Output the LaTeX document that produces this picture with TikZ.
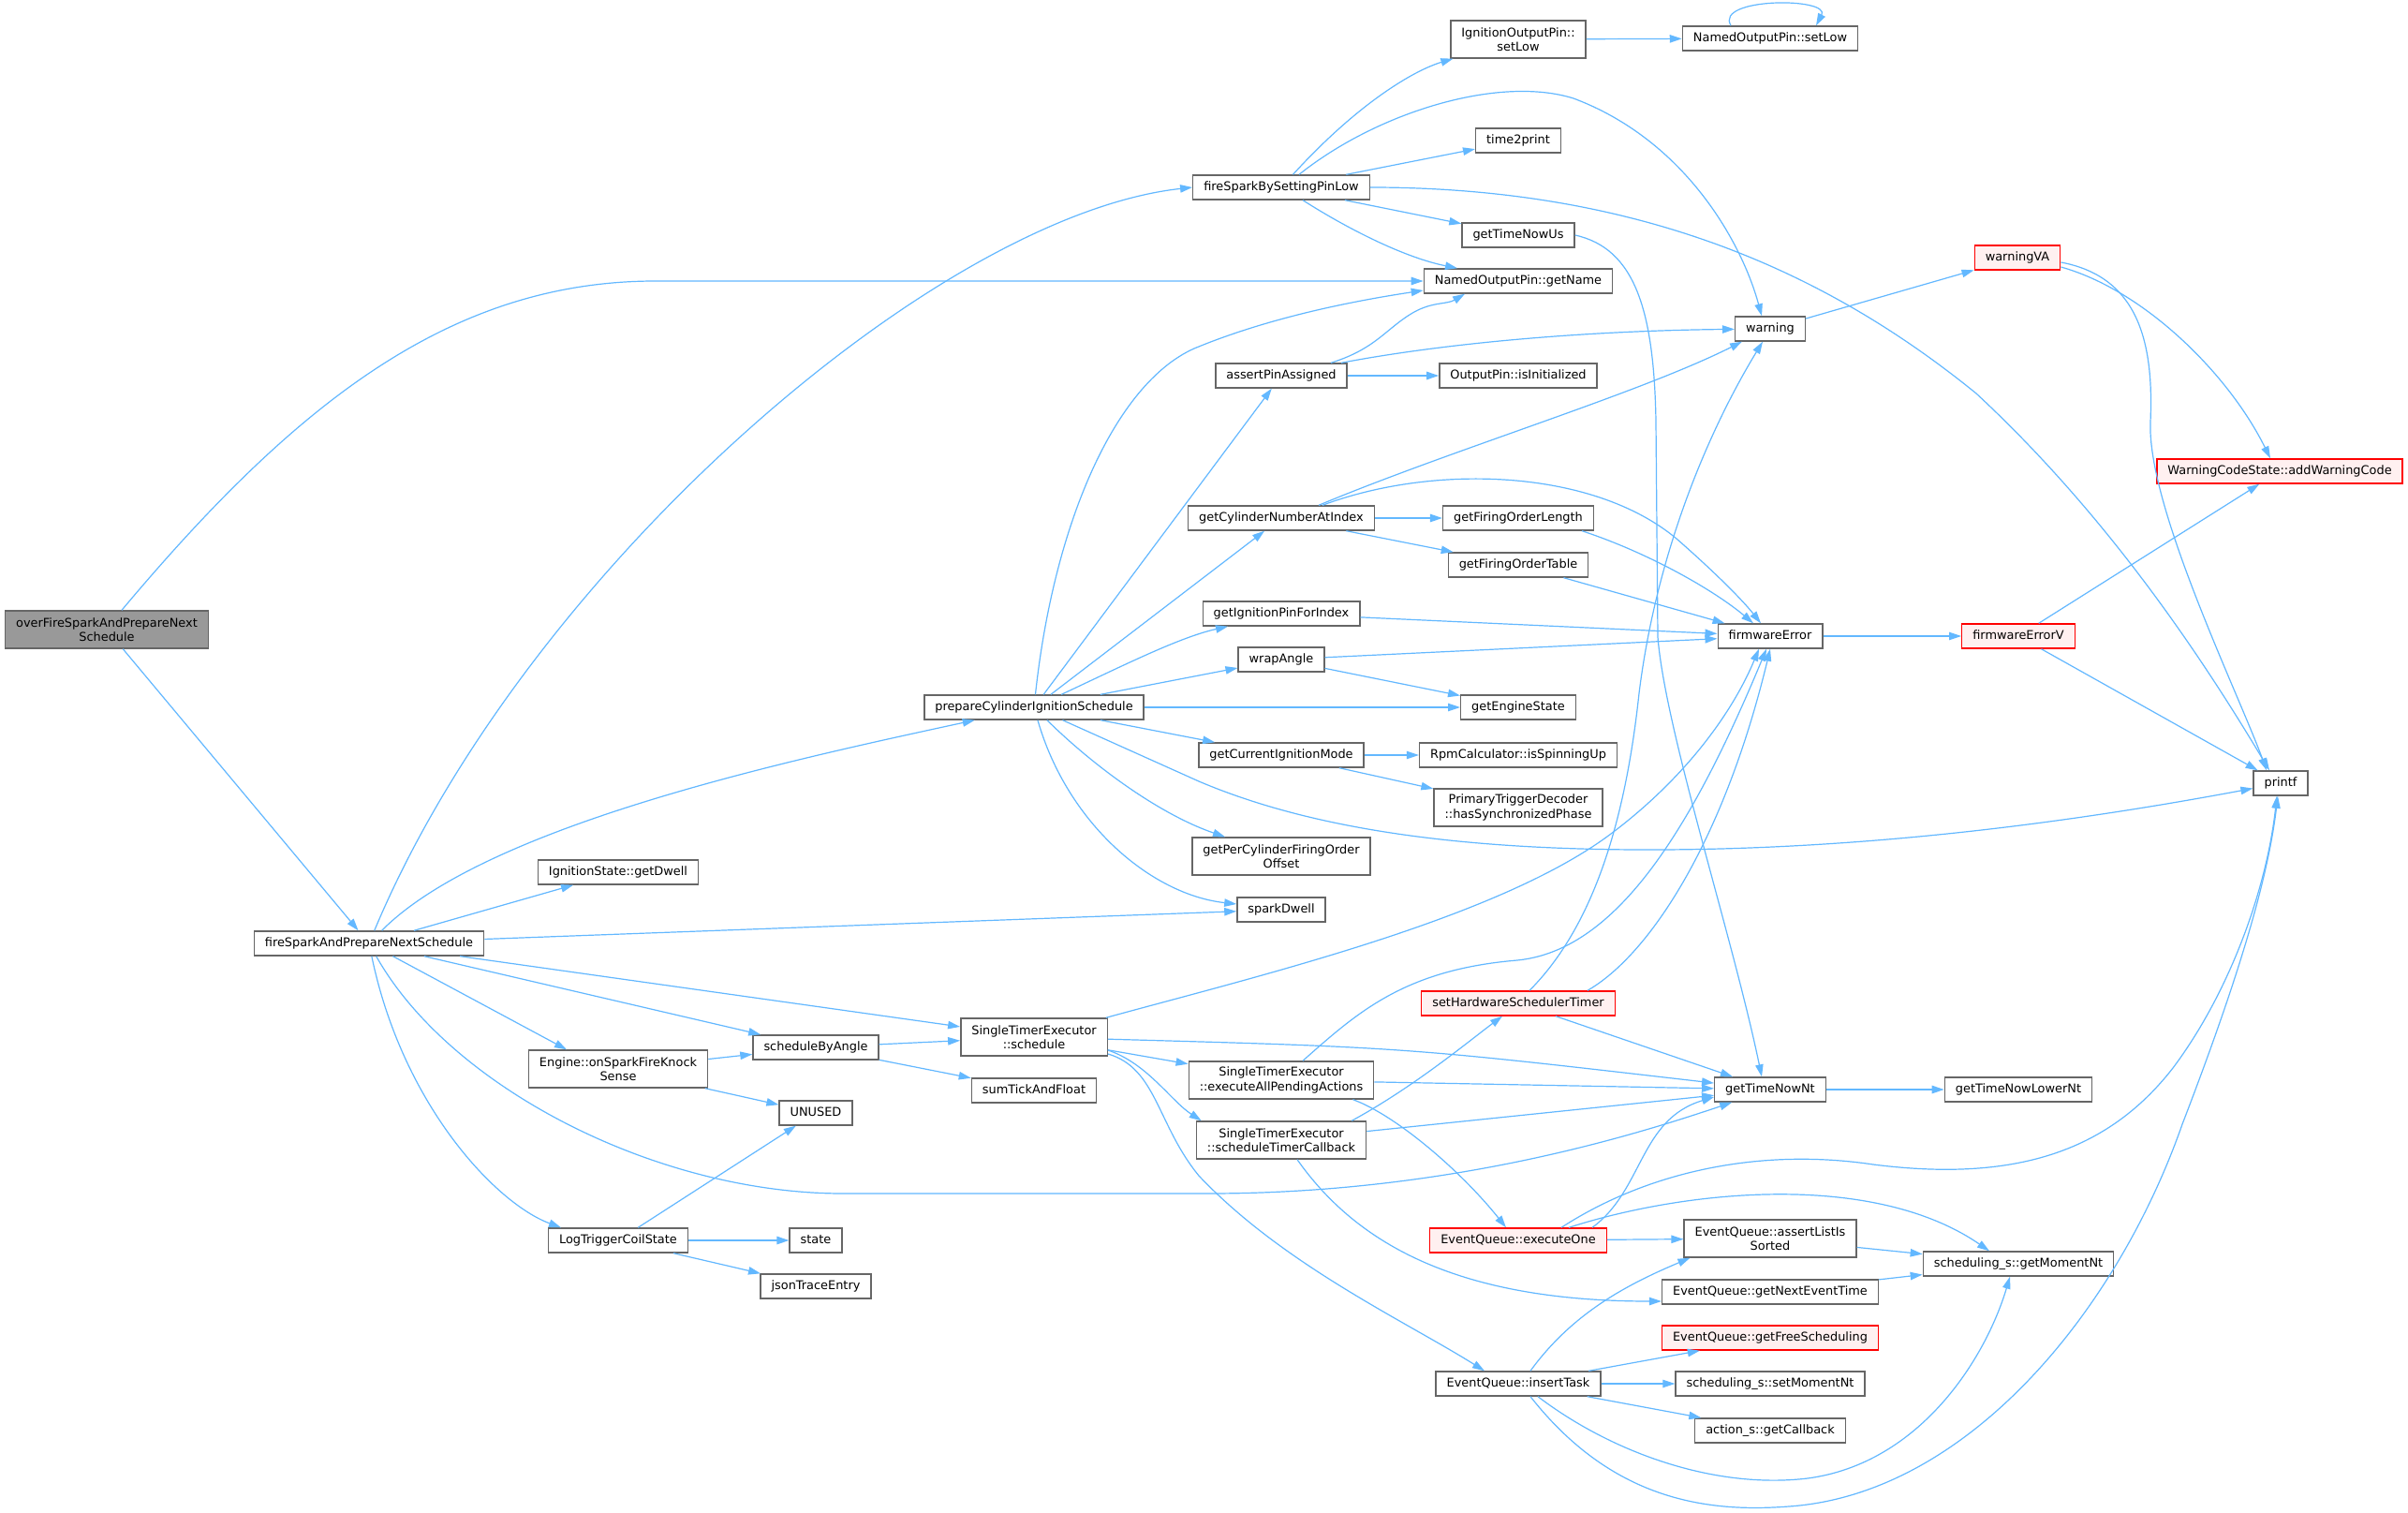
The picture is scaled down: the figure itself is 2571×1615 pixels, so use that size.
\documentclass[tikz,border=0pt]{standalone}
\usepackage{fontspec}
\setmainfont{DejaVu Sans}
\usetikzlibrary{arrows.meta,calc}
\definecolor{edgeblue}{HTML}{63B8FF}
\definecolor{nodegray}{HTML}{666666}
\definecolor{rootfill}{HTML}{999999}
\definecolor{redfill}{HTML}{FFF0F0}
\newcommand{\callfont}{\fontsize{6.45}{7.6}\selectfont}
\tikzset{
  fnbase/.style={draw=nodegray, fill=white, line width=0.7pt, inner xsep=5.75pt, inner ysep=2.4pt, font=\callfont},
  fn/.style={fnbase, minimum height=13pt, text height=4.9pt, text depth=1.4pt},
  fntwo/.style={fnbase, align=center, minimum height=20pt},
  fnred/.style={fn, draw=red, fill=redfill},
  call/.style={draw=edgeblue, line width=0.6pt, -{Triangle[length=6.5pt,width=4.2pt]}}
}
\begin{document}
\begin{tikzpicture}[x=0.5pt,y=-0.5pt]
    \fill[white] (0,0) rectangle (2571,1615);
    \useasboundingbox (0,0) rectangle (2571,1615);
    % column 1-4
    \node[fntwo, fill=rootfill] (root) at (114,672) {overFireSparkAndPrepareNext\\Schedule};
    \node[fn] (fsapns) at (394,1007) {fireSparkAndPrepareNextSchedule};
    \node[fn] (getdwell) at (660,931) {IgnitionState::getDwell};
    \node[fntwo] (knock) at (660,1141) {Engine::onSparkFireKnock\\Sense};
    \node[fn] (logcoil) at (660,1324) {LogTriggerCoilState};
    \node[fn] (sba) at (871,1118) {scheduleByAngle};
    \node[fn] (unused) at (871,1188) {UNUSED};
    \node[fn] (state) at (871,1324) {state};
    \node[fn] (json) at (871,1373) {jsonTraceEntry};
    % column 5-6
    \node[fn] (pcis) at (1104,755) {prepareCylinderIgnitionSchedule};
    \node[fntwo] (stes) at (1104,1107) {SingleTimerExecutor\\::schedule};
    \node[fn] (sumtick) at (1104,1164) {sumTickAndFloat};
    \node[fn] (fsbspl) at (1368,200) {fireSparkBySettingPinLow};
    \node[fn] (assertpin) at (1368,401) {assertPinAssigned};
    \node[fn] (cylnum) at (1368,553) {getCylinderNumberAtIndex};
    \node[fn] (pinidx) at (1368,655) {getIgnitionPinForIndex};
    \node[fn] (wrap) at (1368,704) {wrapAngle};
    \node[fn] (ignmode) at (1368,806) {getCurrentIgnitionMode};
    \node[fntwo] (offset) at (1368,914) {getPerCylinderFiringOrder\\Offset};
    \node[fn] (dwell) at (1368,971) {sparkDwell};
    \node[fntwo] (eapa) at (1368,1153) {SingleTimerExecutor\\::executeAllPendingActions};
    \node[fntwo] (stc) at (1368,1217) {SingleTimerExecutor\\::scheduleTimerCallback};
    % column 7
    \node[fntwo] (iopsetlow) at (1621,42) {IgnitionOutputPin::\\setLow};
    \node[fn] (t2p) at (1621,150) {time2print};
    \node[fn] (nowus) at (1621,251) {getTimeNowUs};
    \node[fn] (getname) at (1621,300) {NamedOutputPin::getName};
    \node[fn] (isinit) at (1621,401) {OutputPin::isInitialized};
    \node[fn] (folen) at (1621,553) {getFiringOrderLength};
    \node[fn] (fotab) at (1621,603) {getFiringOrderTable};
    \node[fn] (engstate) at (1621,755) {getEngineState};
    \node[fn] (spinup) at (1621,806) {RpmCalculator::isSpinningUp};
    \node[fntwo] (synced) at (1621,862) {PrimaryTriggerDecoder\\::hasSynchronizedPhase};
    \node[fnred] (shst) at (1621,1071) {setHardwareSchedulerTimer};
    \node[fnred] (execone) at (1621,1324) {EventQueue::executeOne};
    \node[fn] (insert) at (1621,1477) {EventQueue::insertTask};
    % column 8
    \node[fn] (nopsetlow) at (1890,41) {NamedOutputPin::setLow};
    \node[fn] (warning) at (1890,351) {warning};
    \node[fn] (fwerr) at (1890,679) {firmwareError};
    \node[fn] (nownt) at (1890,1163) {getTimeNowNt};
    \node[fntwo] (sorted) at (1890,1322) {EventQueue::assertListIs\\Sorted};
    \node[fn] (nextev) at (1890,1379) {EventQueue::getNextEventTime};
    \node[fnred] (freesch) at (1890,1428) {EventQueue::getFreeScheduling};
    \node[fn] (setmom) at (1890,1477) {scheduling\_s::setMomentNt};
    \node[fn] (callback) at (1890,1527) {action\_s::getCallback};
    % column 9-10
    \node[fnred] (warnva) at (2154,275) {warningVA};
    \node[fnred] (fwerrv) at (2155,679) {firmwareErrorV};
    \node[fn] (lowernt) at (2155,1163) {getTimeNowLowerNt};
    \node[fn] (getmom) at (2155,1349) {scheduling\_s::getMomentNt};
    \node[fnred] (addwarn) at (2434,503) {WarningCodeState::addWarningCode};
    \node[fn] (printf) at (2435,836) {printf};
    % root
    \draw[call] ($(root.north)+(16,0)$) .. controls (314,432) and (480,300) .. (700,300) -- (getname);
    \draw[call] (root) -- (fsapns);
    % fireSparkAndPrepareNextSchedule
    \draw[call] (fsapns) .. controls (560,610) and (1000,230) .. (fsbspl.west);
    \draw[call] (fsapns) .. controls (520,880) and (850,810) .. (pcis);
    \draw[call] (fsapns) -- (getdwell);
    \draw[call] (fsapns) -- (dwell);
    \draw[call] (fsapns) -- (stes);
    \draw[call] (fsapns) -- (sba);
    \draw[call] (fsapns) -- ($(knock.north)+(-55,0)$);
    \draw[call] (fsapns) .. controls (480,1160) and (700,1274) .. (900,1274) -- (1290,1274) .. controls (1550,1274) and (1750,1210) .. (nownt);
    \draw[call] (fsapns) .. controls (430,1180) and (530,1285) .. ($(logcoil.north)+(-61,0)$);
    % prepareCylinderIgnitionSchedule
    \draw[call] (pcis) .. controls (1125,560) and (1190,410) .. (1275,372) .. controls (1340,345) and (1420,325) .. ($(getname.west)+(0,10)$);
    \draw[call] (pcis) -- (assertpin);
    \draw[call] (pcis) -- (cylnum);
    \draw[call] (pcis) .. controls (1200,710) and (1260,680) .. ($(pinidx.south)+(-57,0)$);
    \draw[call] (pcis) -- (wrap);
    \draw[call] (pcis) -- (engstate);
    \draw[call] (pcis) -- (ignmode);
    \draw[call] (pcis) .. controls (1170,820) and (1240,870) .. ($(offset.north)+(-60,0)$);
    \draw[call] (pcis) .. controls (1140,880) and (1230,955) .. ($(dwell.west)+(0,-6)$);
    \draw[call] (pcis) -- (1280,834) .. controls (1400,885) and (1560,908) .. (1774,907) .. controls (1990,906) and (2200,880) .. (printf);
    % fireSparkBySettingPinLow
    \draw[call] (fsbspl) .. controls (1450,110) and (1510,75) .. (iopsetlow);
    \draw[call] ($(fsbspl.north)+(19,0)$) .. controls (1470,120) and (1600,80) .. (1680,105) .. controls (1800,150) and (1860,260) .. ($(warning.north)+(-9,0)$);
    \draw[call] (fsbspl) -- (t2p);
    \draw[call] (fsbspl.east) .. controls (1750,200) and (1950,290) .. (2110,420) .. controls (2250,550) and (2350,700) .. ($(printf.north)+(-12,0)$);
    \draw[call] (fsbspl) -- (nowus);
    \draw[call] ($(fsbspl.south)+(23,0)$) .. controls (1440,245) and (1500,275) .. ($(getname.north)+(-65,0)$);
    \draw[call] (iopsetlow) -- (nopsetlow);
    \draw[call] ($(nopsetlow.north)+(-42,0)$) .. controls (1830,-3) and (1955,-3) .. ($(nopsetlow.north)+(49,0)$);
    % assertPinAssigned, getCylinderNumberAtIndex
    \draw[call] ($(assertpin.north)+(53,0)$) .. controls (1470,372) and (1480,350) .. (1510,333) .. controls (1530,322) and (1545,325) .. ($(getname.south)+(-57,0)$);
    \draw[call] ($(assertpin.north)+(64,0)$) .. controls (1550,365) and (1700,353) .. (warning);
    \draw[call] (assertpin) -- (isinit);
    \draw[call] ($(cylnum.north)+(40,0)$) .. controls (1550,480) and (1750,420) .. ($(warning.south)+(-30,0)$);
    \draw[call] ($(cylnum.north)+(44,0)$) .. controls (1530,495) and (1700,500) .. (1790,575) .. controls (1830,610) and (1860,640) .. ($(fwerr.north)+(-10,0)$);
    \draw[call] (cylnum) -- (folen);
    \draw[call] (cylnum) -- (fotab);
    \draw[call] ($(folen.south)+(68,0)$) .. controls (1760,590) and (1830,630) .. ($(fwerr.north)+(-18,0)$);
    \draw[call] (fotab) -- (fwerr);
    \draw[call] (pinidx) -- (fwerr);
    \draw[call] (wrap) -- (fwerr);
    \draw[call] (wrap) -- (engstate);
    \draw[call] (ignmode) -- (spinup);
    \draw[call] (ignmode) -- (synced);
    % warning, firmwareError
    \draw[call] (warning) -- (warnva);
    \draw[call] ($(warnva.east)+(0,5)$) .. controls (2280,295) and (2300,360) .. (2296,450) .. controls (2292,540) and (2390,740) .. ($(printf.north)+(-15,0)$);
    \draw[call] ($(warnva.east)+(0,10)$) .. controls (2290,310) and (2380,400) .. ($(addwarn.north)+(-10,0)$);
    \draw[call] (fwerr) -- (fwerrv);
    \draw[call] (fwerrv) -- (addwarn);
    \draw[call] (fwerrv) -- (printf);
    \draw[call] (nowus.east) .. controls (1745,265) and (1766,330) .. (1768,450) -- (1770,680) .. controls (1778,780) and (1850,1000) .. ($(nownt.north)+(-9,0)$);
    % setHardwareSchedulerTimer
    \draw[call] ($(shst.north)+(12,0)$) .. controls (1700,990) and (1735,880) .. (1750,740) .. controls (1770,580) and (1830,450) .. ($(warning.south)+(-8,0)$);
    \draw[call] ($(shst.north east)+(-30,0)$) .. controls (1760,1020) and (1840,900) .. (fwerr.south);
    \draw[call] (shst) -- (nownt);
    % SingleTimerExecutor
    \draw[call] ($(stes.north east)+(-2,0)$) .. controls (1350,1040) and (1600,980) .. (1720,890) .. controls (1800,830) and (1850,760) .. ($(fwerr.south)+(-12,0)$);
    \draw[call] (stes) .. controls (1500,1118) .. (nownt);
    \draw[call] (stes) -- (eapa);
    \draw[call] ($(stes.east)+(0,14)$) .. controls (1225,1135) and (1250,1175) .. ($(stc.north west)+(6,0)$);
    \draw[call] ($(stes.east)+(0,18)$) .. controls (1235,1140) and (1235,1200) .. (1280,1255) .. controls (1370,1350) and (1500,1410) .. ($(insert.north)+(-36,0)$);
    \draw[call] ($(eapa.north)+(23,0)$) .. controls (1450,1080) and (1500,1035) .. (1620,1025) .. controls (1720,1015) and (1800,900) .. ($(fwerr.south)+(-4,0)$);
    \draw[call] (eapa) -- (nownt);
    \draw[call] ($(eapa.south east)+(-23,0)$) .. controls (1490,1190) and (1560,1250) .. ($(execone.north)+(-13,0)$);
    \draw[call] ($(stc.north east)+(-16,0)$) .. controls (1510,1160) and (1570,1110) .. ($(shst.south)+(-17,0)$);
    \draw[call] (stc) -- (nownt);
    \draw[call] ($(stc.south)+(17,0)$) .. controls (1450,1330) and (1560,1389) .. ($(nextev.west)+(0,10)$);
    % EventQueue
    \draw[call] ($(execone.north)+(79,0)$) .. controls (1755,1270) and (1750,1195) .. ($(nownt.west)+(0,8)$);
    \draw[call] ($(execone.north)+(46,0)$) .. controls (1760,1250) and (1880,1225) .. (2000,1243) .. controls (2150,1262) and (2250,1230) .. (2320,1140) .. controls (2380,1060) and (2420,950) .. ($(printf.south)+(-4,0)$);
    \draw[call] ($(execone.north)+(54,0)$) .. controls (1800,1270) and (2000,1250) .. ($(getmom.north)+(-31,0)$);
    \draw[call] (execone) -- (sorted);
    \draw[call] (sorted) -- (getmom);
    \draw[call] (nextev) -- (getmom);
    \draw[call] ($(insert.north)+(13,0)$) .. controls (1680,1400) and (1740,1370) .. ($(sorted.south west)+(7,0)$);
    \draw[call] (insert) -- (freesch);
    \draw[call] (insert) -- (setmom);
    \draw[call] (insert) -- (callback);
    \draw[call] ($(insert.south)+(21,0)$) .. controls (1720,1550) and (1830,1590) .. (1930,1578) .. controls (2050,1562) and (2120,1450) .. ($(getmom.south)+(-9,0)$);
    \draw[call] ($(insert.south)+(13,0)$) .. controls (1720,1600) and (1820,1615) .. (1910,1608) .. controls (2100,1595) and (2260,1400) .. (2330,1200) .. controls (2380,1070) and (2420,950) .. ($(printf.south)+(-3,0)$);
    \draw[call] (nownt) -- (lowernt);
    % scheduleByAngle, knock sense, coil state
    \draw[call] (sba) -- (stes);
    \draw[call] (sba) -- (sumtick);
    \draw[call] (knock) -- (sba);
    \draw[call] (knock) -- (unused);
    \draw[call] (logcoil) -- (unused);
    \draw[call] (logcoil) -- (state);
    \draw[call] (logcoil) -- (json);
\end{tikzpicture}
\end{document}
